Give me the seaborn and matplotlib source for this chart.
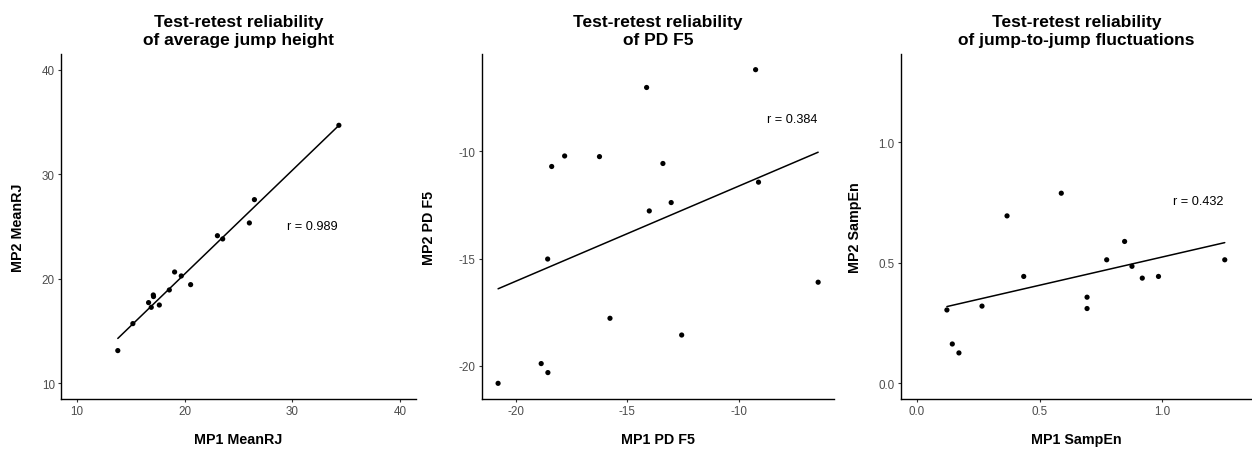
import matplotlib
matplotlib.use("Agg")
import matplotlib.pyplot as plt
import seaborn as sns
import pandas as pd

# values
mp1_meanrj = [13.78, 15.18, 16.64, 16.89, 17.08, 17.10, 17.64, 18.57, 19.06, 19.68, 20.55, 23.04, 23.53, 26.01, 26.48, 34.33]
mp2_meanrj = [13.13, 15.71, 17.72, 17.27, 18.45, 18.30, 17.49, 18.93, 20.65, 20.27, 19.44, 24.12, 23.81, 25.34, 27.57, 34.68]

mp1_pdf5 = [-20.78, -18.85, -18.55, -18.56, -18.38, -17.80, -16.24, -15.77, -14.13, -14.01, -13.40, -13.03, -12.56, -9.25, -9.12, -6.45]
mp2_pdf5 = [-20.81, -19.89, -20.31, -15.02, -10.71, -10.22, -10.25, -17.78, -7.03, -12.78, -10.57, -12.39, -18.56, -6.20, -11.44, -16.10]

mp1_sampen = [0.122, 0.144, 0.171, 0.265, 0.367, 0.435, 0.588, 0.693, 0.693, 0.773, 0.846, 0.876, 0.918, 0.984, 1.254]
mp2_sampen = [0.304, 0.163, 0.126, 0.320, 0.694, 0.443, 0.788, 0.357, 0.310, 0.512, 0.588, 0.485, 0.436, 0.443, 0.512]

titles = ["Test-retest reliability\nof average jump height",
          "Test-retest reliability\nof PD F5",
          "Test-retest reliability\nof jump-to-jump fluctuations"]
x_labels = ["MP1 MeanRJ", "MP1 PD F5", "MP1 SampEn"]
y_labels = ["MP2 MeanRJ", "MP2 PD F5", "MP2 SampEn"]
r_labels = ["r = 0.989", "r = 0.384", "r = 0.432"]
r_pos = [(31.9, 25.0), (-7.62, -8.52), (1.148, 0.754)]

sns.set_theme(style="ticks")
plt.rcParams["font.family"] = ["Liberation Sans", "DejaVu Sans"]
plt.rcParams["axes.unicode_minus"] = False

fig = plt.figure(figsize=(12.52, 4.52), dpi=100)
boxes = [[61, 355], [482, 352], [901, 351]]
ylab_x = [-0.10, -0.13, -0.11]

frames = [
    pd.DataFrame({"x": mp1_meanrj, "y": mp2_meanrj}),
    pd.DataFrame({"x": mp1_pdf5, "y": mp2_pdf5}),
    pd.DataFrame({"x": mp1_sampen, "y": mp2_sampen}),
]

for i, df in enumerate(frames):
    left, width = boxes[i]
    ax = fig.add_axes([left / 1252, 52 / 452, width / 1252, 345 / 452])
    sns.regplot(data=df, x="x", y="y", ax=ax, ci=None,
                scatter_kws={"s": 14, "color": "black", "edgecolor": "none", "alpha": 1},
                line_kws={"color": "black", "lw": 1.1})
    ax.set_title(titles[i], fontsize=12.5, fontweight="bold", pad=7,
                 linespacing=1.3, color="black")
    ax.set_xlabel(x_labels[i], fontsize=10.3, fontweight="bold", color="black")
    ax.set_ylabel(y_labels[i], fontsize=10.3, fontweight="bold", color="black")
    ax.text(r_pos[i][0], r_pos[i][1], r_labels[i], fontsize=9.2,
            ha="center", va="center", color="black")

    for side in ["top", "right"]:
        ax.spines[side].set_visible(False)
    for side in ["left", "bottom"]:
        ax.spines[side].set_linewidth(1.0)
        ax.spines[side].set_color("black")
    ax.tick_params(length=2.5, width=0.8, color="#333333", labelsize=8.4,
                   labelcolor="#4D4D4D", pad=2)
    ax.xaxis.set_label_coords(0.5, -0.095)
    ax.yaxis.set_label_coords(ylab_x[i], 0.5)

axes = fig.axes
axes[0].set_xlim(8.5, 41.5)
axes[0].set_ylim(8.5, 41.5)
axes[0].set_xticks([10, 20, 30, 40])
axes[0].set_yticks([10, 20, 30, 40])

axes[1].set_xlim(-21.5, -5.74)
axes[1].set_ylim(-21.54, -5.47)
axes[1].set_xticks([-20, -15, -10])
axes[1].set_yticks([-20, -15, -10])

axes[2].set_xlim(-0.065, 1.365)
axes[2].set_ylim(-0.065, 1.365)
axes[2].set_xticks([0, 0.5, 1.0])
axes[2].set_yticks([0, 0.5, 1.0])
axes[2].set_xticklabels(["0.0", "0.5", "1.0"])
axes[2].set_yticklabels(["0.0", "0.5", "1.0"])

fig.savefig("out.png", dpi=100)
plt.close(fig)
